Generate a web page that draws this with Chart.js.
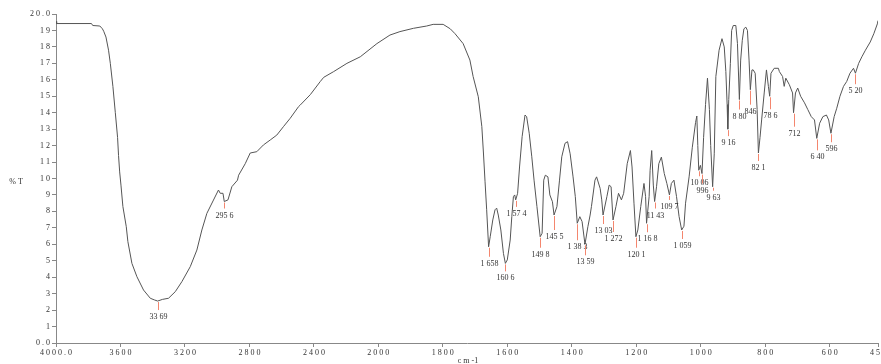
<!DOCTYPE html>
<html><head><meta charset="utf-8">
<script src="https://cdn.jsdelivr.net/npm/chart.js@4"></script>
<style>html,body{margin:0;padding:0;background:#fff;}#wrap{width:881px;height:364px;position:relative;}</style>
</head><body><div id="wrap"><canvas id="c"></canvas></div>
<script>
// ---- data ----
const wavenumbers = [4000,3996,3780,3772,3728,3712,3704,3690,3674,3663,3647,3632,3618,3612,3605,3597,3585,3564,3554,3529,3498,3457,3415,3390,3369,3340,3302,3260,3219,3167,3126,3095,3064,3023,2992,2981,2964,2956,2933,2909,2874,2867,2826,2795,2754,2713,2671,2630,2589,2547,2495,2484,2422,2360,2339,2277,2195,2112,2009,1964,1933,1891,1850,1830,1799,1777,1762,1737,1716,1706,1690,1679,1674,1669,1664,1658,1653,1645,1638,1633,1628,1620,1612,1606,1600,1591,1586,1581,1577,1574,1568,1562,1554,1545,1540,1532,1524,1517,1508,1498,1492,1487,1482,1474,1468,1460,1455,1446,1438,1431,1421,1413,1405,1396,1389,1383,1375,1368,1359,1350,1343,1339,1328,1323,1312,1307,1303,1291,1284,1278,1272,1263,1255,1246,1239,1228,1218,1213,1207,1201,1195,1186,1176,1171,1168,1160,1157,1152,1147,1143,1137,1130,1122,1113,1105,1097,1091,1083,1075,1067,1059,1052,1047,1036,1026,1016,1012,1009,1006,1001,996,991,985,979,973,969,963,958,953,943,934,927,922,918,916,913,908,904,899,891,886,880,876,871,866,860,855,850,846,841,837,831,825,821,816,811,803,796,790,786,782,772,759,756,746,741,736,725,715,712,706,699,690,678,668,657,647,640,631,621,610,603,596,586,578,568,557,547,537,526,520,510,500,489,474,463,452,450];
const transmittance = [19.55,19.42,19.42,19.3,19.27,19.1,18.95,18.6,17.8,17.0,15.6,14.0,12.5,11.4,10.4,9.6,8.3,7.07,6.16,4.84,4.03,3.22,2.72,2.62,2.55,2.65,2.72,3.12,3.73,4.64,5.65,6.87,7.88,8.69,9.3,9.1,9.1,8.6,8.7,9.5,9.9,10.2,10.9,11.55,11.63,12.04,12.34,12.64,13.15,13.66,14.37,14.47,15.1,15.9,16.15,16.5,17.0,17.4,18.2,18.72,18.93,19.13,19.27,19.37,19.37,19.1,18.8,18.2,17.2,16.2,14.97,13.15,11.55,9.8,8.1,5.85,6.46,7.48,8.1,8.2,7.78,6.87,5.45,4.84,5.05,6.26,7.68,8.9,9.0,8.7,9.1,10.7,12.54,13.86,13.76,12.75,11.32,9.9,8.29,6.46,6.67,9.9,10.2,10.1,9.0,8.59,7.78,8.29,9.9,11.32,12.14,12.24,11.5,10.1,8.9,7.28,7.68,7.38,6.0,7.07,7.78,8.29,9.9,10.1,9.4,8.7,7.78,8.9,9.6,9.5,7.48,8.29,9.1,8.7,9.1,10.9,11.7,10.7,8.5,6.46,6.87,8.29,9.7,8.9,7.28,8.9,10.5,11.7,9.6,8.6,9.5,10.9,11.3,10.3,9.7,9.0,9.7,9.9,8.9,7.68,6.87,7.1,8.5,10.1,11.9,13.4,13.8,12.0,10.5,10.8,10.3,12.5,14.5,16.1,14.2,12.0,9.5,11.5,16.2,17.8,18.5,18.0,16.5,14.5,13.0,14.8,17.0,19.0,19.3,19.3,18.2,14.8,17.2,18.4,19.1,19.2,19.0,17.2,15.4,16.6,16.6,16.4,14.2,11.55,12.5,13.56,15.2,16.6,15.6,15.0,16.4,16.7,16.7,16.5,16.2,15.6,16.1,15.7,15.2,14.0,15.2,15.5,15.0,14.6,14.2,13.76,13.56,12.44,13.36,13.76,13.86,13.56,12.75,13.76,14.27,15.0,15.6,15.9,16.4,16.7,16.4,17.0,17.4,17.8,18.3,18.8,19.4,19.6];
const peakWavenumbers = [3369,2956,1658,1606,1574,1498,1455,1383,1359,1303,1272,1201,1168,1143,1097,1059,1006,996,963,916,880,846,821,786,712,640,596,520];
const peakLabels = ["33 69","295 6","1 658","160 6","1 57 4","149 8","145 5","1 38 3","13 59","13 03","1 272","120 1","1 16 8","11 43","109 7","1 059","10 06","996","9 63","9 16","8 80","846","82 1","78 6","712","6 40","596","5 20"];
const xTickValues = [4000,3600,3200,2800,2400,2000,1800,1600,1400,1200,1000,800,600,450];
const xTickLabels = ["4 0 0 0 . 0","3 6 0 0","3 2 0 0","2 8 0 0","2 4 0 0","2 0 0 0","1 8 0 0","1 6 0 0","1 4 0 0","1 2 0 0","1 0 0 0","8 0 0","6 0 0","4 5 0"];
const yTickValues = [0,1,2,3,4,5,6,7,8,9,10,11,12,13,14,15,16,17,18,19,20];
const yTickLabels = ["0 . 0","1","2","3","4","5","6","7","8","9","1 0","1 1","1 2","1 3","1 4","1 5","1 6","1 7","1 8","1 9","2 0 . 0"];

// ---- styling (marker lengths in px) ----
const markLen = [8,6,9,7,6,10,14,16,10,8,11,10,8,6,4,8,5,9,3,6,9,14,7,12,13,11,8,10];

// IR wavenumber scale: 2x expansion below 2000 cm-1
class IRScale extends Chart.LinearScale {
  getPixelForValue(v) {
    const d = v >= 2000 ? (4000 - v) / 5100 : (2000 + 2 * (2000 - v)) / 5100;
    return this.getPixelForDecimal(d);
  }
  getValueForPixel(p) {
    const u = this.getDecimalForPixel(p) * 5100;
    return u <= 2000 ? 4000 - u : 2000 - (u - 2000) / 2;
  }
}
IRScale.id = 'irwave';
IRScale.defaults = Chart.LinearScale.defaults;
Chart.register(IRScale);

const FONT = '"Liberation Serif", "DejaVu Serif", serif';
const points = wavenumbers.map((w, i) => ({x: w, y: transmittance[i]}));

const annot = {
  id: 'annot',
  afterDatasetsDraw(chart) {
    const ctx = chart.ctx, xs = chart.scales.x, ys = chart.scales.y;
    ctx.save();
    ctx.font = '8px ' + FONT;
    ctx.textAlign = 'center';
    ctx.textBaseline = 'middle';
    peakWavenumbers.forEach((w, i) => {
      const idx = wavenumbers.indexOf(w);
      const t = transmittance[idx];
      const px = Math.round(xs.getPixelForValue(w)) + 0.5;
      const py = ys.getPixelForValue(t) + 1;
      ctx.strokeStyle = '#f4866e';
      ctx.lineWidth = 1;
      ctx.beginPath();
      ctx.moveTo(px, py);
      ctx.lineTo(px, py + markLen[i]);
      ctx.stroke();
      ctx.fillStyle = '#333';
      ctx.fillText(peakLabels[i], px, py + markLen[i] + 7);
    });
    ctx.fillStyle = '#333';
    ctx.fillText('% T', 16, 182);
    ctx.fillText('c m -1', 468, 361);
    ctx.restore();
  }
};

new Chart(document.getElementById('c'), {
  type: 'line',
  data: { datasets: [{ data: points, borderColor: '#555', borderWidth: 1, pointRadius: 0, tension: 0, fill: false }] },
  options: {
    responsive: true, maintainAspectRatio: false, animation: false,
    layout: { padding: { left: 0, right: 3, top: 14, bottom: 0 } },
    plugins: { legend: { display: false }, tooltip: { enabled: false } },
    scales: {
      x: {
        type: 'irwave', min: 450, max: 4000,
        afterBuildTicks: s => { s.ticks = xTickValues.map(v => ({value: v})); },
        afterFit: s => { s.height = 21; s.paddingLeft = 0; s.paddingRight = 0; },
        grid: { display: true, drawOnChartArea: false, drawTicks: true, tickLength: 4, color: '#888' },
        border: { display: true, color: '#888' },
        ticks: { autoSkip: false, maxRotation: 0, padding: 1, color: '#333', font: { size: 8, family: FONT },
          callback: v => xTickLabels[xTickValues.indexOf(v)] }
      },
      y: {
        min: 0, max: 20,
        afterBuildTicks: s => { s.ticks = yTickValues.map(v => ({value: v})); },
        afterFit: s => { s.width = 56; s.paddingTop = 0; s.paddingBottom = 0; },
        grid: { display: true, drawOnChartArea: false, drawTicks: true, tickLength: 4, color: '#888' },
        border: { display: true, color: '#888' },
        ticks: { autoSkip: false, padding: 2, color: '#333', font: { size: 8, family: FONT },
          callback: v => yTickLabels[yTickValues.indexOf(v)] }
      }
    }
  },
  plugins: [annot]
});
</script></body></html>
